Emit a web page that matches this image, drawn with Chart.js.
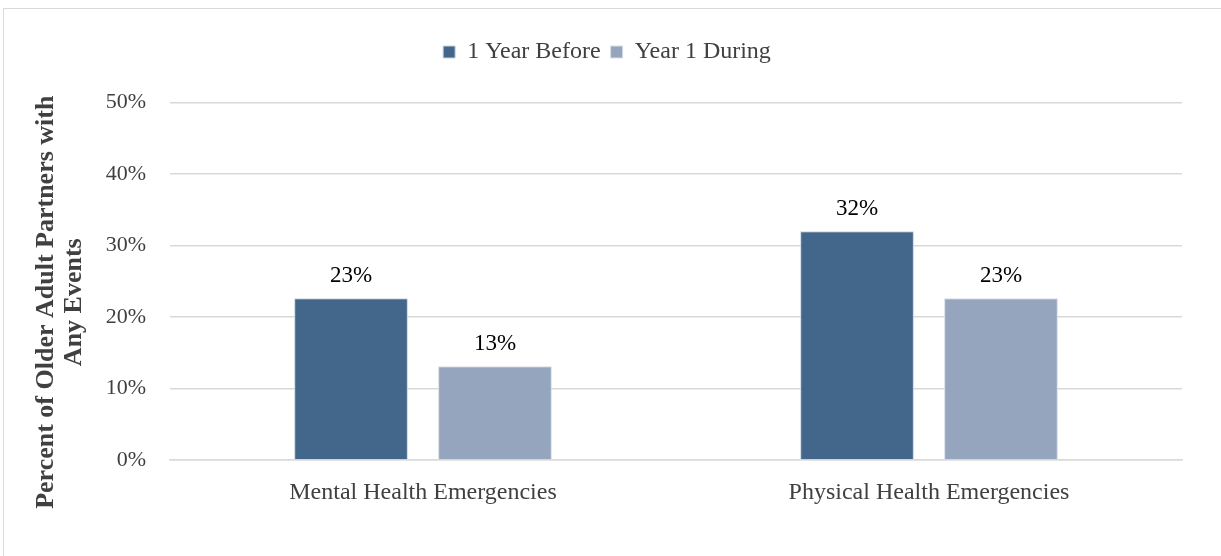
<!DOCTYPE html>
<html>
<head>
<meta charset="utf-8">
<script src="https://cdn.jsdelivr.net/npm/chart.js@4"></script>
<style>
  html, body { margin: 0; padding: 0; background: #fff; }
  #wrap { width: 1221px; height: 556px; position: relative; }
</style>
</head>
<body>
<div id="wrap"><canvas id="chart"></canvas></div>
<script>
const categories = ["Mental Health Emergencies", "Physical Health Emergencies"];
const seriesNames = ["1 Year Before", "Year 1 During"];
const yearBefore = [22.6, 32.0];
const yearDuring = [13.1, 22.6];
const yTicks = [0, 10, 20, 30, 40, 50];
const yTitle = ["Percent of Older Adult Partners with", "Any Events"];

const serif = "'Liberation Serif', 'Times New Roman', serif";

// frame around the whole chart, like the office export
const framePlugin = {
    id: "frame",
    beforeDraw(chart) {
        const ctx = chart.ctx;
        ctx.save();
        ctx.fillStyle = "#fff";
        ctx.fillRect(0, 0, chart.width, chart.height);
        ctx.strokeStyle = "#d9d9d9";
        ctx.lineWidth = 1;
        ctx.strokeRect(3.5, 8.5, chart.width + 20, chart.height + 20);
        ctx.restore();
    }
};

// value labels above bars
const valueLabels = {
    id: "valueLabels",
    afterDatasetsDraw(chart) {
        const ctx = chart.ctx;
        ctx.save();
        ctx.font = "23px " + serif;
        ctx.fillStyle = "#000";
        ctx.textAlign = "center";
        ctx.textBaseline = "bottom";
        chart.data.datasets.forEach((ds, i) => {
            chart.getDatasetMeta(i).data.forEach((bar, j) => {
                ctx.fillText(Math.round(ds.data[j]) + "%", bar.x, bar.y - 11);
            });
        });
        ctx.restore();
    }
};

// y axis title, two lines, sits a bit lower than the plot middle in the original
const yTitlePlugin = {
    id: "yTitle",
    afterDraw(chart) {
        const ctx = chart.ctx;
        const area = chart.chartArea;
        const cy = (area.top + area.bottom) / 2 + 21;
        ctx.save();
        ctx.font = "bold 26px " + serif;
        ctx.fillStyle = "#404040";
        ctx.textAlign = "center";
        ctx.textBaseline = "middle";
        yTitle.forEach((line, i) => {
            ctx.save();
            ctx.translate(46 + i * 28, cy);
            ctx.rotate(-Math.PI / 2);
            ctx.fillText(line, 0, 0);
            ctx.restore();
        });
        ctx.restore();
    }
};

new Chart(document.getElementById("chart"), {
    type: "bar",
    data: {
        labels: categories,
        datasets: [
            {
                label: seriesNames[0],
                data: yearBefore,
                backgroundColor: "#43678b",
                borderColor: "#c9d3de",
                borderWidth: 1,
            },
            {
                label: seriesNames[1],
                data: yearDuring,
                backgroundColor: "#94a5bd",
                borderColor: "#d7dde6",
                borderWidth: 1,
            },
        ],
    },
    options: {
        responsive: true,
        maintainAspectRatio: false,
        animation: false,
        datasets: {
            bar: { categoryPercentage: 0.569, barPercentage: 0.79 }
        },
        layout: { padding: { top: 30, left: 32, right: 39, bottom: 0 } },
        plugins: {
            legend: {
                position: "top",
                labels: {
                    boxWidth: 12,
                    boxHeight: 12,
                    padding: 10,
                    color: "#404040",
                    font: { family: serif, size: 24 },
                },
            },
            subtitle: {
                display: true,
                text: " ",
                weight: 500,
                font: { size: 2 },
                padding: { top: 10, bottom: 16 },
            },
            tooltip: { enabled: false },
        },
        scales: {
            x: {
                grid: { display: false, drawTicks: false },
                border: { color: "#d9d9d9", width: 1.5 },
                ticks: {
                    color: "#404040",
                    font: { family: serif, size: 24 },
                    padding: 18,
                },
                afterFit(axis) { axis.height = 96; },
            },
            y: {
                min: 0,
                max: 50,
                afterBuildTicks(axis) { axis.ticks = yTicks.map(v => ({ value: v })); },
                grid: { color: "#d9d9d9", lineWidth: 1.5, drawTicks: false },
                border: { display: false },
                ticks: {
                    color: "#404040",
                    font: { family: serif, size: 22 },
                    padding: 24,
                    callback: v => v + "%",
                },
                afterFit(axis) { axis.width = 138; },
            },
        },
    },
    plugins: [framePlugin, valueLabels, yTitlePlugin],
});
</script>
</body>
</html>
